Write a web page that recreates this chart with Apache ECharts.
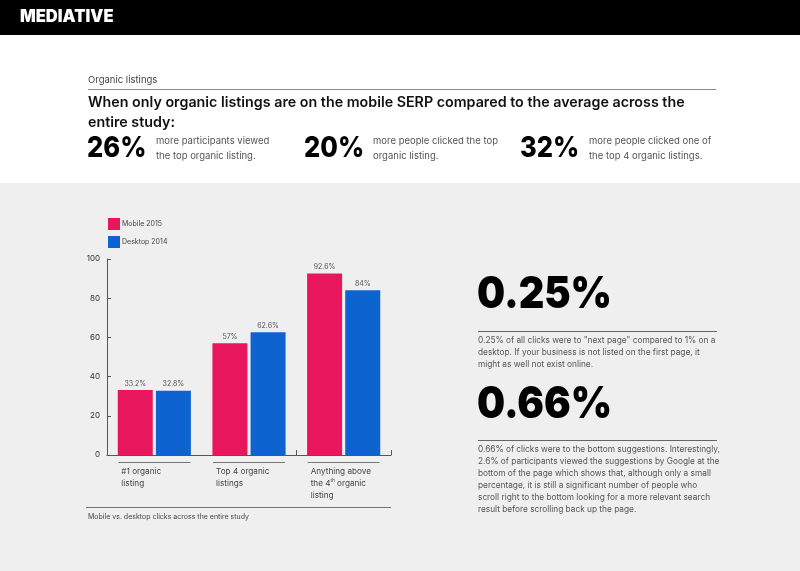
<!DOCTYPE html>
<html><head><meta charset="utf-8">
<script src="https://cdn.jsdelivr.net/npm/echarts@6/dist/echarts.min.js"></script>
<style>html,body{margin:0;padding:0;background:#efefef}#c{width:800px;height:571px}</style>
</head><body><div id="c"></div>
<script>
var categories = ['#1 organic\nlisting', 'Top 4 organic\nlistings', 'Anything above\nthe 4{sup|th} organic\nlisting'];
var seriesNames = ['Mobile 2015', 'Desktop 2014'];
var mobile2015 = [33.2, 57, 92.6];
var desktop2014 = [32.8, 62.6, 84];
var yTicks = [0, 20, 40, 60, 80, 100];

var PINK = '#e8175d', BLUE = '#0d63cf';
var F = 'Inter, "Noto Sans", sans-serif';
var chart = echarts.init(document.getElementById('c'));

function txt(x, y, text, font, fill, extra, sx) {
  var s = {x: 0, y: 0, text: text, font: font, fill: fill, verticalAlign: 'top', align: 'left'};
  if (extra) for (var k in extra) s[k] = extra[k];
  return {type: 'text', z: 10, x: x, y: y, scaleX: sx || 1, style: s};
}
function line(x1, y1, x2, y2, c) {
  return {type: 'line', z: 10, shape: {x1: x1, y1: y1, x2: x2, y2: y2}, style: {stroke: c || '#777', lineWidth: 1}};
}

var graphics = [
  {type: 'rect', z: 1, shape: {x: 0, y: 0, width: 800, height: 35}, style: {fill: '#000'}},
  {type: 'rect', z: 1, shape: {x: 0, y: 35, width: 800, height: 148}, style: {fill: '#fff'}},
  txt(20, 8, 'MEDIATIVE', '900 17px ' + F, '#fff', null, 0.97),
  txt(88, 75, 'Organic listings', '400 9.5px ' + F, '#444'),
  line(88, 89.5, 716, 89.5, '#888'),
  txt(88, 93, 'When only organic listings are on the mobile SERP compared to the average across the\nentire study:', '600 14.5px ' + F, '#111', {lineHeight: 19.5}, 0.985),
  txt(87, 134, '26%', '800 29px ' + F, '#000', null, 0.88),
  txt(156, 134, 'more participants viewed\nthe top organic listing.', '400 9.5px ' + F, '#555', {lineHeight: 15}),
  txt(304, 134, '20%', '800 29px ' + F, '#000', null, 0.88),
  txt(373, 134, 'more people clicked the top\norganic listing.', '400 9.5px ' + F, '#555', {lineHeight: 15}),
  txt(520, 134, '32%', '800 29px ' + F, '#000', null, 0.88),
  txt(589, 134, 'more people clicked one of\nthe top 4 organic listings.', '400 9.5px ' + F, '#555', {lineHeight: 15}),
  txt(477, 273, '0.25%', '900 44px ' + F, '#000', null, 0.9),
  line(478, 331.5, 717, 331.5, '#666'),
  txt(478, 335, '0.25% of all clicks were to "next page" compared to 1% on a\ndesktop. If your business is not listed on the first page, it\nmight as well not exist online.', '400 8.3px ' + F, '#555', {lineHeight: 12}),
  txt(477, 383, '0.66%', '900 44px ' + F, '#000', null, 0.9),
  line(478, 440.5, 717, 440.5, '#666'),
  txt(478, 444, '0.66% of clicks were to the bottom suggestions. Interestingly,\n2.6% of participants viewed the suggestions by Google at the\nbottom of the page which shows that, although only a small\npercentage, it is still a significant number of people who\nscroll right to the bottom looking for a more relevant search\nresult before scrolling back up the page.', '400 8.3px ' + F, '#555', {lineHeight: 12}),
  line(86, 507.5, 391, 507.5, '#777'),
  txt(88, 513, 'Mobile vs. desktop clicks across the entire study', '400 7px ' + F, '#444')
];

function valLabel(v) { return v + '%'; }

chart.setOption({
  backgroundColor: '#efefef',
  animation: false,
  textStyle: {fontFamily: F},
  graphic: graphics,
  legend: {
    orient: 'vertical', left: 108, top: 218, padding: 0, itemWidth: 12, itemHeight: 12, itemGap: 6,
    icon: 'rect', data: seriesNames,
    textStyle: {fontSize: 7, color: '#444', padding: [0, 0, 0, -3]}
  },
  grid: {left: 107, right: 409, top: 259, bottom: 116, containLabel: false},
  xAxis: {
    type: 'category', data: categories,
    axisLine: {lineStyle: {color: '#555', width: 1}},
    axisTick: {show: true, inside: true, length: 5, lineStyle: {color: '#555'}},
    axisLabel: {show: false}
  },
  yAxis: {
    type: 'value', min: yTicks[0], max: yTicks[yTicks.length - 1], interval: 20,
    axisLine: {show: true, lineStyle: {color: '#555', width: 1}},
    axisTick: {show: true, inside: true, length: 4, lineStyle: {color: '#555'}},
    splitLine: {show: false},
    axisLabel: {fontSize: 8, color: '#333', margin: 7}
  },
  series: [
    {name: seriesNames[0], type: 'bar', data: mobile2015, barWidth: 35, barGap: '9%',
     itemStyle: {color: PINK},
     label: {show: true, position: 'top', fontSize: 7, color: '#555', distance: 3, formatter: function (p) { return valLabel(p.value); }}},
    {name: seriesNames[1], type: 'bar', data: desktop2014, barWidth: 35,
     itemStyle: {color: BLUE},
     label: {show: true, position: 'top', fontSize: 7, color: '#555', distance: 3, formatter: function (p) { return valLabel(p.value); }}},
    {type: 'custom', silent: true, clip: false, legendHoverLink: false,
     data: categories.map(function (c, i) { return [i, 0]; }),
     renderItem: function (params, api) {
       var idx = api.value(0);
       var pt = api.coord([idx, 0]);
       var band = api.size([1, 0])[0];
       var half = band * 0.38;
       return {type: 'group', children: [
         {type: 'line', shape: {x1: pt[0] - half, y1: pt[1] + 7.5, x2: pt[0] + half, y2: pt[1] + 7.5}, style: {stroke: '#777', lineWidth: 1}},
         {type: 'text', style: {x: pt[0] - half + 3, y: pt[1] + 11, text: categories[idx], font: '400 8.2px ' + F, fill: '#444', lineHeight: 12, verticalAlign: 'top', align: 'left',
           rich: {sup: {fontSize: 5, verticalAlign: 'top', lineHeight: 12, padding: [0, 0, 5, 0], fill: '#444'}}}}
       ]};
     }}
  ]
});
</script></body></html>
